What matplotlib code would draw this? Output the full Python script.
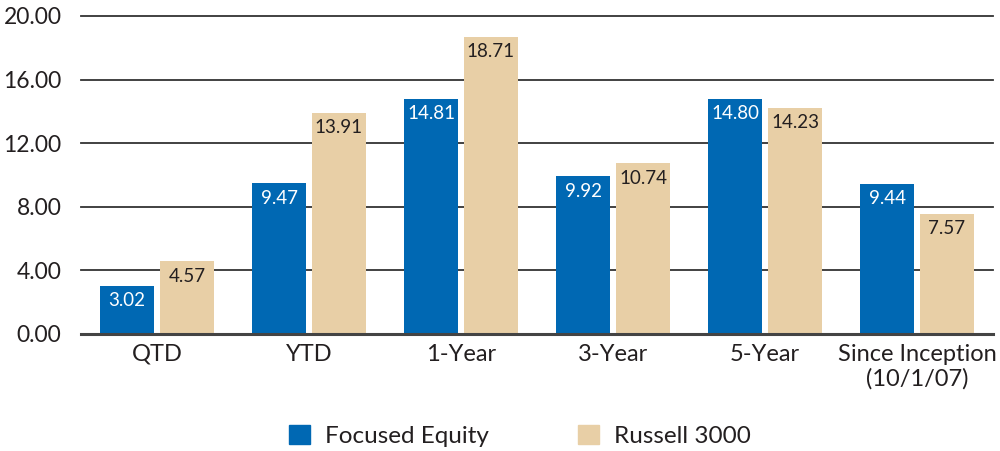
import matplotlib
matplotlib.use("Agg")
import matplotlib.pyplot as plt
from matplotlib.patches import Patch
import numpy as np

categories = ["QTD", "YTD", "1-Year", "3-Year", "5-Year", "Since Inception\n(10/1/07)"]
focused_equity = [3.02, 9.47, 14.81, 9.92, 14.80, 9.44]
russell_3000 = [4.57, 13.91, 18.71, 10.74, 14.23, 7.57]
yticks = [0, 4, 8, 12, 16, 20]
series_names = ["Focused Equity", "Russell 3000"]

BLUE = "#0068B3"
TAN = "#E8CFA6"
TXT = "#231F20"

plt.rcParams['font.family'] = ['Lato', 'DejaVu Sans']

fig = plt.figure(figsize=(10, 4.51), dpi=100)
ax = fig.add_axes([0.081, 1 - 334/451, 0.912, (334 - 16)/451])

x = np.arange(len(categories))
w = 0.36
off = 0.197
ax.bar(x - off, focused_equity, w, color=BLUE, zorder=3)
ax.bar(x + off, russell_3000, w, color=TAN, zorder=3)

for xi, v in zip(x, focused_equity):
    ax.text(xi - off, v - 0.4, f"{v:.2f}", ha="center", va="top", color="white", fontsize=13.5, zorder=4)
for xi, v in zip(x, russell_3000):
    ax.text(xi + off, v - 0.4, f"{v:.2f}", ha="center", va="top", color=TXT, fontsize=13.5, zorder=4)

ax.set_xlim(-0.5, len(categories) - 0.5)
ax.set_ylim(0, 20)
for t in yticks:
    ax.axhline(t, color="#333333" if t else "#444444", lw=1.3 if t else 2.2, zorder=2 if t else 4, clip_on=False)

ax.set_yticks(yticks)
ax.set_yticklabels([f"{t:.2f}" for t in yticks], fontsize=16.5, color=TXT)
ax.set_xticks(x)
ax.set_xticklabels(categories, fontsize=17, color=TXT, linespacing=1.2)
ax.tick_params(axis="both", length=0)
ax.tick_params(axis="y", pad=14)
ax.tick_params(axis="x", pad=7)
for s in ax.spines.values():
    s.set_visible(False)

handles = [Patch(color=BLUE), Patch(color=TAN)]
fig.legend(handles, series_names, loc="center", bbox_to_anchor=(0.52, 1 - 436/451), ncol=2,
           frameon=False, fontsize=17.5, handlelength=0.85, handleheight=0.85, handletextpad=0.6,
           columnspacing=3.7, labelcolor=TXT)

fig.savefig("out.png", dpi=100)
